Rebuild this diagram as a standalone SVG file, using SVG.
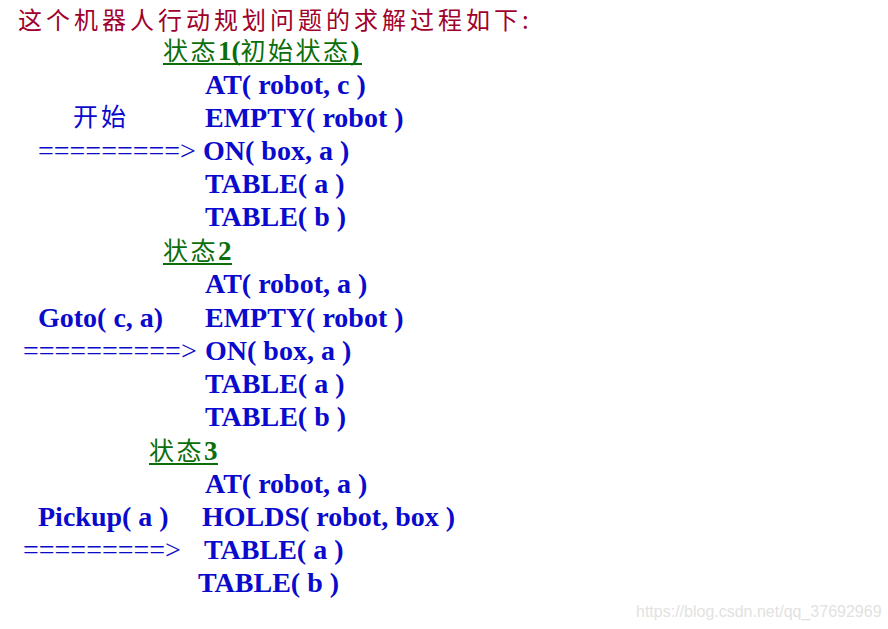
<svg xmlns="http://www.w3.org/2000/svg" width="888" height="629" viewBox="0 0 888 629">
<style>
.t{font-family:"Noto Sans CJK SC",sans-serif;font-size:24px;letter-spacing:4px;fill:#A0002C}
.g{font-family:"Noto Sans CJK SC",sans-serif;font-size:25px;letter-spacing:2.5px;fill:#0B6E0B}
.gb{font-family:"Liberation Serif",serif;font-weight:bold;font-size:27px;letter-spacing:0;fill:#0B6E0B}
.u{stroke:#0B6E0B;stroke-width:2}
.b{font-family:"Liberation Serif",serif;font-weight:bold;font-size:28px;fill:#0A0ACC}
.c{font-family:"Noto Sans CJK SC",sans-serif;font-size:25px;letter-spacing:3px;fill:#0A0ACC}
.a{font-family:"Liberation Serif",serif;font-size:28px;fill:#0A0ACC}
.w{font-family:"Liberation Sans",sans-serif;font-size:16px;fill:#E2E2E2}
</style>
<rect width="888" height="629" fill="#fff"/>
<text class="t" x="18" y="29">这个机器人行动规划问题的求解过程如下:</text>
<g id="state1">
<text x="163" y="60"><tspan class="g">状态</tspan><tspan class="gb">1(</tspan><tspan class="g">初始状态</tspan><tspan class="gb">)</tspan></text>
<line class="u" x1="163" y1="64" x2="362" y2="64"/>
<text class="b" x="205" y="94">AT( robot, c )</text>
<text class="b" x="205" y="127">EMPTY( robot )</text>
<text class="b" x="203" y="160">ON( box, a )</text>
<text class="b" x="205" y="193">TABLE( a )</text>
<text class="b" x="205" y="226">TABLE( b )</text>
</g>
<g id="state2">
<text class="g" x="163" y="260">状态<tspan class="gb">2</tspan></text>
<line class="u" x1="163" y1="264" x2="232" y2="264"/>
<text class="b" x="205" y="293">AT( robot, a )</text>
<text class="b" x="205" y="327">EMPTY( robot )</text>
<text class="b" x="205" y="360">ON( box, a )</text>
<text class="b" x="205" y="393">TABLE( a )</text>
<text class="b" x="205" y="426">TABLE( b )</text>
</g>
<g id="state3">
<text class="g" x="149" y="460">状态<tspan class="gb">3</tspan></text>
<line class="u" x1="149" y1="464" x2="218" y2="464"/>
<text class="b" x="205" y="493">AT( robot, a )</text>
<text class="b" x="202" y="526">HOLDS( robot, box )</text>
<text class="b" x="204" y="559">TABLE( a )</text>
<text class="b" x="198" y="592">TABLE( b )</text>
</g>
<g id="connectors">
<text class="c" x="73" y="126">开始</text>
<text class="a" x="38" y="160">=========&gt;</text>
<text class="b" x="38" y="327">Goto( c, a)</text>
<text class="a" x="23" y="360">==========&gt;</text>
<text class="b" x="38" y="526">Pickup( a )</text>
<text class="a" x="23" y="559">=========&gt;</text>
</g>
<text class="w" x="636" y="617">https://blog.csdn.net/qq_37692969</text>
</svg>
